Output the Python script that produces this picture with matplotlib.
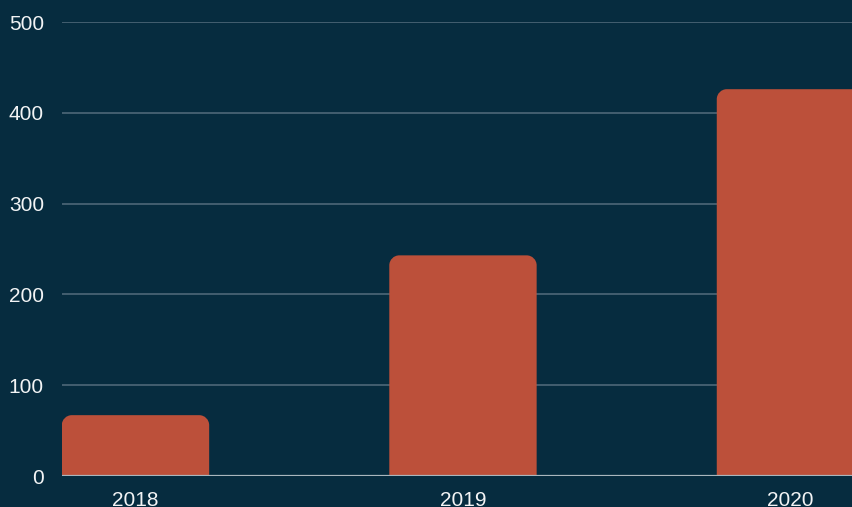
import matplotlib
matplotlib.use("Agg")
import matplotlib.pyplot as plt
from matplotlib.path import Path
from matplotlib.patches import PathPatch

# data
years = ["2018", "2019", "2020"]
values = [67, 243, 426]
y_ticks = [0, 100, 200, 300, 400, 500]

BG = "#062c3f"
BAR = "#bc503a"
GRID = "#4d6878"
BASE = "#a9b6bd"
TXT = "#f2f4f5"

plt.rcParams['font.family'] = ['Liberation Sans', 'DejaVu Sans']

W, H = 853, 507
fig = plt.figure(figsize=(W / 100, H / 100), dpi=100, facecolor=BG)
ax = fig.add_axes([62 / W, 1 - 476 / H, 1 - 62 / W, (476 - 22) / H])
ax.set_facecolor(BG)

x = list(range(len(years)))
bar_w = 0.45
ax.set_xlim(-0.2244, 2.191)
ax.set_ylim(0, 500)

# grid
for t in y_ticks[1:]:
    ax.axhline(t, color=GRID, lw=1.2, zorder=1)
ax.axhline(0, color=BASE, lw=1.6, zorder=3)

# bars with rounded top corners
bars = ax.bar(x, values, width=bar_w, color=BAR, zorder=2)
px_per_x = (W - 62) / (2.191 + 0.2244)
px_per_y = (476 - 22) / 500
r_px = 10
rx, ry = r_px / px_per_x, r_px / px_per_y
k = 0.5523
for b in bars:
    x0, y0 = b.get_x(), b.get_y()
    x1, y1 = x0 + b.get_width(), y0 + b.get_height()
    verts = [
        (x0, y0), (x0, y1 - ry),
        (x0, y1 - ry + k * ry), (x0 + rx - k * rx, y1), (x0 + rx, y1),
        (x1 - rx, y1),
        (x1 - rx + k * rx, y1), (x1, y1 - ry + k * ry), (x1, y1 - ry),
        (x1, y0), (x0, y0),
    ]
    codes = [Path.MOVETO, Path.LINETO,
             Path.CURVE4, Path.CURVE4, Path.CURVE4,
             Path.LINETO,
             Path.CURVE4, Path.CURVE4, Path.CURVE4,
             Path.LINETO, Path.CLOSEPOLY]
    ax.add_patch(PathPatch(Path(verts, codes), facecolor=BAR, edgecolor="none", zorder=2))
    b.set_visible(False)

ax.set_xticks(x)
ax.set_xticklabels(years)
ax.set_yticks(y_ticks)
ax.tick_params(axis="both", length=0, colors=TXT, labelsize=15)
ax.tick_params(axis="y", pad=13)
ax.tick_params(axis="x", pad=11)
for s in ax.spines.values():
    s.set_visible(False)

fig.savefig("out.png", dpi=100, facecolor=BG)
